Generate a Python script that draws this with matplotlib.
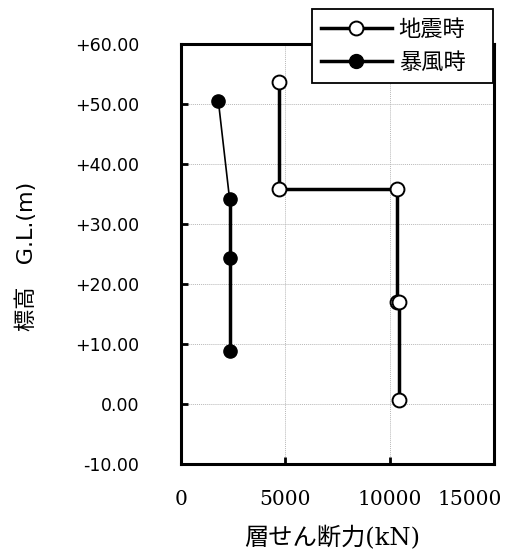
import matplotlib
matplotlib.use("Agg")
import matplotlib.pyplot as plt
import matplotlib.transforms as mtransforms

# --- data ---
quake_x = [4700, 4700, 10330, 10330, 10440, 10440]
quake_y = [53.7, 35.9, 35.9, 17.0, 17.0, 0.6]
wind_x = [1790, 2330, 2330, 2330]
wind_y = [50.5, 34.1, 24.3, 8.9]
series_labels = ["地震時", "暴風時"]
xticks = [0, 5000, 10000, 15000]
xtick_labels = ["0", "5000", "10000", "15000"]
yticks = [-10, 0, 10, 20, 30, 40, 50, 60]
ytick_labels = ["-10.00", "0.00", "+10.00", "+20.00", "+30.00", "+40.00", "+50.00", "+60.00"]
xlabel = "層せん断力(kN)"
ylabel = "標高　G.L.(m)"

W, H = 532, 556
fig = plt.figure(figsize=(W / 100, H / 100), dpi=100)
ax = fig.add_axes([181 / W, 1 - 464 / H, (494 - 181) / W, (464 - 44) / H])

cjk = ["Noto Sans CJK JP", "DejaVu Sans"]

# grid
ax.grid(True, color="#b8b8b8", linestyle=(0, (1, 1)), linewidth=0.7)
ax.set_axisbelow(True)

# earthquake series
ax.plot(quake_x, quake_y, color="black", linewidth=2.5, marker="o", markersize=10,
        markerfacecolor="white", markeredgecolor="black", markeredgewidth=1.4,
        label=series_labels[0], zorder=3)

# wind series: thin first segment, thick rest
ax.plot(wind_x[:2], wind_y[:2], color="black", linewidth=1.2, zorder=3)
ax.plot(wind_x[1:], wind_y[1:], color="black", linewidth=2.5, zorder=3)
ax.plot(wind_x, wind_y, linestyle="none", marker="o", markersize=9.5,
        markerfacecolor="black", markeredgecolor="black", zorder=4)
# legend handle for wind
ax.plot([], [], color="black", linewidth=2.5, marker="o", markersize=10,
        markerfacecolor="black", markeredgecolor="black", label=series_labels[1])

ax.set_xlim(0, 15000)
ax.set_ylim(-10, 60)
ax.set_xticks(xticks)
ax.set_xticklabels(xtick_labels, fontsize=14.5, family=["DejaVu Serif"])
ax.set_yticks(yticks)
ax.set_yticklabels(ytick_labels, fontsize=12.5, family=["DejaVu Sans"])
ax.tick_params(axis="y", direction="in", length=5, width=2, pad=30, left=True)
ax.tick_params(axis="x", direction="in", length=5, width=2, pad=18.5)

# shift last x tick label left as in reference
last = ax.get_xticklabels()[-1]
last.set_transform(last.get_transform() + mtransforms.ScaledTranslation(-24 / 100, 0, fig.dpi_scale_trans))

for s in ax.spines.values():
    s.set_linewidth(2.2)
    s.set_color("black")

fig.text(332 / W, 1 - 538 / H, xlabel, ha="center", va="center", fontsize=17.5,
         family=["DejaVu Serif", "Noto Sans CJK JP"])
fig.text(26 / W, 1 - 256 / H, ylabel, ha="center", va="center", rotation=90, fontsize=16,
         family=["DejaVu Sans", "Noto Sans CJK JP"])

leg = ax.legend(loc="upper left", bbox_to_anchor=(312 / W, 1 - 81 / H, 181 / W, 72 / H),
                bbox_transform=fig.transFigure, mode="expand", prop={"family": cjk, "size": 16},
                frameon=True, fancybox=False, edgecolor="black", framealpha=1,
                handlelength=3.2, handletextpad=0.3, borderpad=0.4, labelspacing=0.45,
                borderaxespad=0)
leg.get_frame().set_linewidth(1.3)
leg.set_zorder(10)

fig.savefig("out.png", dpi=100)
